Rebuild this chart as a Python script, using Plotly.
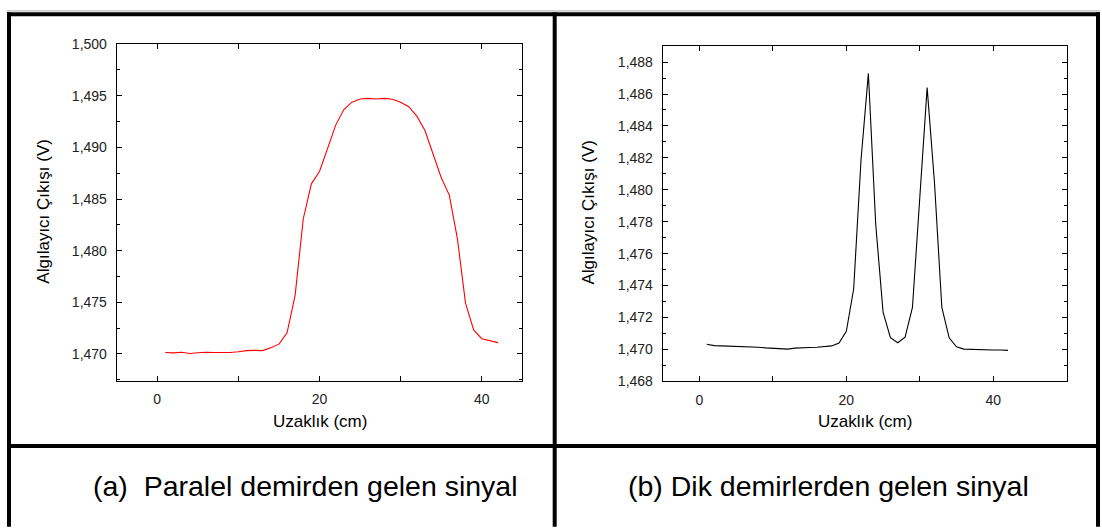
import plotly.graph_objects as go

# ---------------- data ----------------
x_a = list(range(1, 43))
y_a = [1.47013, 1.47009, 1.47016, 1.47003, 1.47010, 1.47016, 1.47013, 1.47010, 1.47013, 1.47020,
       1.47031, 1.47034, 1.47031, 1.47059, 1.47094, 1.47203, 1.47569, 1.48309, 1.48647, 1.48766,
       1.49000, 1.49216, 1.49366, 1.49438, 1.49469, 1.49475, 1.49469, 1.49475, 1.49466, 1.49438,
       1.49394, 1.49303, 1.49163, 1.48944, 1.48709, 1.48538, 1.48116, 1.47491, 1.47231, 1.47147,
       1.47128, 1.47109]

x_b = list(range(1, 43))
y_b = [1.47032, 1.47024, 1.47022, 1.47021, 1.47021, 1.47020, 1.47016, 1.47014, 1.47010, 1.47008,
       1.47004, 1.47002, 1.47008, 1.47012, 1.47012, 1.47014, 1.47018, 1.47022, 1.47040, 1.47113,
       1.47380, 1.48188, 1.48729, 1.47784, 1.47234, 1.47073, 1.47042, 1.47077, 1.47263, 1.47966,
       1.48640, 1.48046, 1.47263, 1.47073, 1.47016, 1.47002, 1.47000, 1.46996, 1.46996, 1.46996,
       1.46996, 1.46994]

x_tickvals = [0, 10, 20, 30, 40]
x_ticktext = ["0", "", "20", "", "40"]
x_title = "Uzaklık (cm)"
y_title = "Algılayıcı Çıkışı (V)"
caption_a = "(a)  Paralel demirden gelen sinyal"
caption_b = "(b) Dik demirlerden gelen sinyal"

# ---------------- layout helpers ----------------
W, H = 1102, 529
def px(x):
    return x / W
def py(y):
    return 1 - y / H

FONT = "Liberation Sans, Arial, sans-serif"

fig = go.Figure()
fig.add_trace(go.Scatter(x=x_a, y=y_a, mode="lines", line=dict(color="#ff0000", width=1.1),
                         xaxis="x", yaxis="y", showlegend=False))
fig.add_trace(go.Scatter(x=x_b, y=y_b, mode="lines", line=dict(color="#000000", width=1.1),
                         xaxis="x2", yaxis="y2", showlegend=False))

common_axis = dict(showline=True, linecolor="black", linewidth=1, mirror="ticks",
                   ticks="inside", ticklen=5, tickwidth=1, tickcolor="black",
                   showgrid=False, zeroline=False,
                   tickfont=dict(family=FONT, size=14, color="#222222"))

xax = dict(common_axis, tickmode="array", tickvals=x_tickvals, ticktext=x_ticktext,
           ticklabelstandoff=6)
fig.update_layout(
    width=W, height=H, margin=dict(l=0, r=0, t=0, b=0),
    paper_bgcolor="white", plot_bgcolor="white",
    separators=",.",
    xaxis=dict(xax, domain=[px(116.7), px(522.3)], range=[-5, 45], anchor="y"),
    yaxis=dict(common_axis, domain=[py(384.3), py(37.3)], range=[1.4674, 1.500],
               tick0=1.470, dtick=0.005, tickformat=".3f", anchor="x",
               ticklabelstandoff=6,
               minor=dict(ticks="inside", ticklen=3, dtick=0.0025, tick0=1.470,
                          tickcolor="black", showgrid=False)),
    xaxis2=dict(xax, domain=[px(662.7), px(1066.7)], range=[-5, 50], anchor="y2"),
    yaxis2=dict(common_axis, domain=[py(385), py(39.3)], range=[1.468, 1.489],
                tick0=1.468, dtick=0.002, tickformat=".3f", anchor="x2",
                ticklabelstandoff=6,
                minor=dict(ticks="inside", ticklen=3, dtick=0.001, tick0=1.468,
                           tickcolor="black", showgrid=False)),
)

# axis titles
ann = []
for cx in (319.5, 864.7):
    ann.append(dict(x=px(cx), y=py(426), xref="paper", yref="paper", text=x_title,
                    showarrow=False, xanchor="center", yanchor="middle",
                    font=dict(family=FONT, size=17, color="black")))
for cx, cy in ((44, 210), (589, 211)):
    ann.append(dict(x=px(cx), y=py(cy), xref="paper", yref="paper", text=y_title,
                    textangle=-90, showarrow=False, xanchor="center", yanchor="middle",
                    font=dict(family=FONT, size=17, color="black")))
# captions
ann.append(dict(x=px(305.5), y=py(493), xref="paper", yref="paper", text=caption_a,
                showarrow=False, xanchor="center", yanchor="middle",
                font=dict(family=FONT, size=28.5, color="black")))
ann.append(dict(x=px(828.5), y=py(493), xref="paper", yref="paper", text=caption_b,
                showarrow=False, xanchor="center", yanchor="middle",
                font=dict(family=FONT, size=28.5, color="black")))
fig.update_layout(annotations=ann)

# table borders
shapes = []
bw = 4
def line(x0, y0, x1, y1, w=bw, c="black"):
    shapes.append(dict(type="line", xref="paper", yref="paper",
                       x0=px(x0), y0=py(y0), x1=px(x1), y1=py(y1),
                       line=dict(color=c, width=w)))
line(7, 3, 1100, 3, w=1, c="#aaaaaa")
line(7, 6.5, 1100, 6.5)
line(9, 4.5, 9, 535)
line(1098, 4.5, 1098, 535)
line(554.7, 4.5, 554.7, 535)
line(7, 451.7, 1100, 451.7)
fig.update_layout(shapes=shapes)

fig.write_html("out.html")
